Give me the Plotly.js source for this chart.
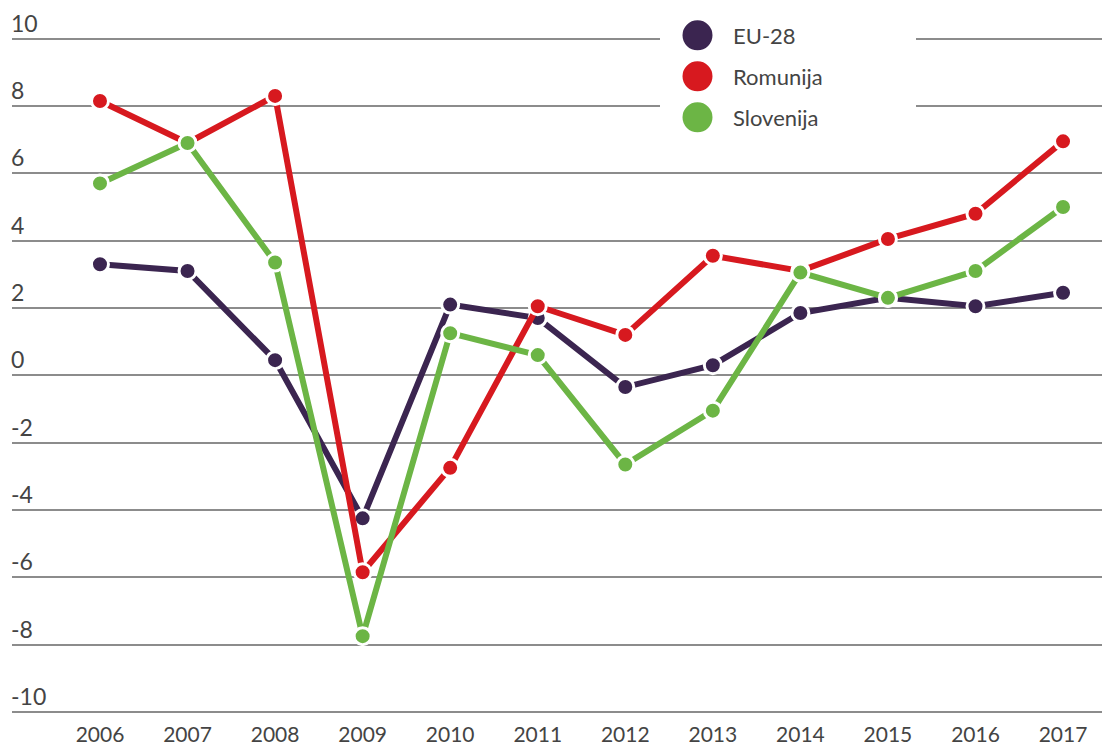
<!DOCTYPE html>
<html>
<head>
<meta charset="utf-8">
<script src="https://cdn.plot.ly/plotly-3.0.1.min.js"></script>
<style>
html,body{margin:0;padding:0;background:#fff;}
#chart{width:1102px;height:747px;}
</style>
</head>
<body>
<div id="chart"></div>
<script>
var years = [2006, 2007, 2008, 2009, 2010, 2011, 2012, 2013, 2014, 2015, 2016, 2017];
var seriesNames = ["EU-28", "Romunija", "Slovenija"];
var eu28 = [3.3, 3.1, 0.45, -4.25, 2.1, 1.7, -0.35, 0.3, 1.85, 2.3, 2.05, 2.45];
var romunija = [8.15, 6.9, 8.3, -5.85, -2.75, 2.05, 1.2, 3.55, 3.1, 4.05, 4.8, 6.95];
var slovenija = [5.7, 6.9, 3.35, -7.75, 1.25, 0.6, -2.65, -1.05, 3.05, 2.3, 3.1, 5.0];
var yTicks = [-10, -8, -6, -4, -2, 0, 2, 4, 6, 8, 10];

var colors = ["#3b2550", "#d7191f", "#6cb545"];
var values = [eu28, romunija, slovenija];

var traces = values.map(function (v, i) {
  return {
    type: "scatter",
    mode: "lines+markers",
    x: years,
    y: v,
    name: seriesNames[i],
    showlegend: false,
    line: {color: colors[i], width: 6},
    marker: {color: colors[i], size: 17, line: {color: "#ffffff", width: 3}},
    hoverinfo: "x+y+name"
  };
});

var fontFam = "Lato, 'Open Sans', sans-serif";

var pxPerUnit = 33.67;
var yMin = -10.3, yMax = 11.0;
var plotBottom = 721.8;
var plotH = (yMax - yMin) * pxPerUnit;
var plotTop = plotBottom - plotH;
var plotL = 12, plotW = 1090;
function px2x(px) { return (px - plotL) / plotW; }
function px2y(py) { return (plotBottom - py) / plotH; }

// white box covering gridlines behind legend
var shapes = [{
  type: "rect", xref: "paper", yref: "paper",
  x0: px2x(660), x1: px2x(916),
  y0: px2y(150), y1: px2y(0),
  layer: "above", line: {width: 0}, fillcolor: "#ffffff"
}];
var annotations = [];
var legendY = [35, 76, 117];
seriesNames.forEach(function (n, i) {
  var cy = px2y(legendY[i]);
  var cx = px2x(697.5);
  shapes.push({
    type: "circle", xref: "paper", yref: "paper",
    xsizemode: "pixel", ysizemode: "pixel",
    xanchor: cx, yanchor: cy,
    x0: -15, x1: 15, y0: -15, y1: 15,
    layer: "above", line: {width: 0}, fillcolor: colors[i]
  });
  annotations.push({
    xref: "paper", yref: "paper",
    x: px2x(731), y: cy,
    xanchor: "left", yanchor: "middle",
    text: n, showarrow: false,
    font: {family: fontFam, size: 22, color: "#444444"}
  });
});

var layout = {
  width: 1102, height: 747,
  margin: {l: plotL, r: 0, t: plotTop, b: 747 - plotBottom},
  paper_bgcolor: "#ffffff",
  plot_bgcolor: "#ffffff",
  showlegend: false,
  xaxis: {
    range: [2004.995, 2017.445],
    tickvals: years,
    ticktext: years.map(String),
    showgrid: false, zeroline: false, showline: false,
    ticks: "",
    tickfont: {family: fontFam, size: 21, color: "#444444"},
    ticklabelstandoff: -2
  },
  yaxis: {
    range: [yMin, yMax],
    tickvals: yTicks,
    ticktext: yTicks.map(String),
    showgrid: true, gridcolor: "#8c8c8c", gridwidth: 2,
    zeroline: false, showline: false, ticks: "",
    ticklabelposition: "inside",
    ticklabelshift: -15,
    ticklabelstandoff: -4,
    tickfont: {family: fontFam, size: 23, color: "#444444"}
  },
  shapes: shapes,
  annotations: annotations
};

Plotly.newPlot("chart", traces, layout, {displayModeBar: false, staticPlot: true});
</script>
</body>
</html>
